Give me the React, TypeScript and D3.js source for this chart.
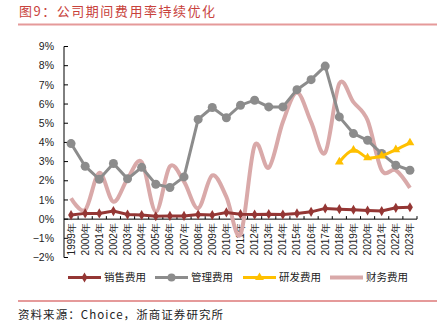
import React from "react";
import * as d3 from "d3";

const years = ["1999","2000","2001","2002","2003","2004","2005","2006","2007","2008","2009","2010","2011","2012","2013","2014","2015","2016","2017","2018","2019","2020","2021","2022","2023"];
const sales = [0.21,0.3,0.3,0.42,0.24,0.21,0.15,0.17,0.17,0.24,0.21,0.35,0.26,0.24,0.26,0.24,0.3,0.38,0.56,0.52,0.49,0.45,0.42,0.59,0.62];
const mgmt = [3.94,2.76,2.08,2.9,2.1,2.7,1.82,1.65,2.2,5.2,5.82,5.28,5.94,6.2,5.85,5.85,6.75,7.27,7.98,5.33,4.46,4.11,3.42,2.81,2.55];
const rdYears = ["2018","2019","2020","2021","2022","2023"];
const rd = [2.98,3.6,3.2,3.3,3.62,3.98];
const fin = [1.09,0.48,2.41,0.91,2.1,2.98,0.39,2.75,1.95,0.57,2.28,1.16,-0.8,3.84,2.68,5.06,6.6,5.06,3.47,7.07,6.1,5.15,2.55,2.55,1.63];
const yTicks = [-2,-1,0,1,2,3,4,5,6,7,8,9];
const legendNames = ["销售费用","管理费用","研发费用","财务费用"];

const C_SALES = "#943634";
const C_MGMT = "#8c8c8c";
const C_RD = "#ffc000";
const C_FIN = "#d9a9a9";

export default function App() {
  const W = 437, H = 322;
  const x = d3.scaleBand<string>().domain(years).range([64, 417]).padding(0);
  const cx = (yr: string) => (x(yr) as number) + x.bandwidth() / 2;
  const y = d3.scaleLinear().domain([-2, 9]).range([257.5, 46.5]);
  const y0 = y(0);

  const line = d3.line<[string, number]>().x(d => cx(d[0])).y(d => y(d[1]));
  const smooth = d3.line<[string, number]>().x(d => cx(d[0])).y(d => y(d[1])).curve(d3.curveCardinal.tension(0));

  const salesPts: [string, number][] = years.map((yr, i) => [yr, sales[i]]);
  const mgmtPts: [string, number][] = years.map((yr, i) => [yr, mgmt[i]]);
  const rdPts: [string, number][] = rdYears.map((yr, i) => [yr, rd[i]]);
  const finPts: [string, number][] = years.map((yr, i) => [yr, fin[i]]);

  const diamond = d3.symbol().type(d3.symbolDiamond).size(30)() as string;
  const tri = d3.symbol().type(d3.symbolTriangle).size(34)() as string;

  const font = "'Liberation Sans', Arial, sans-serif";
  const cjk = "'Noto Sans CJK SC', sans-serif";

  const legendX = [68, 155, 243, 330];
  const legendColors = [C_SALES, C_MGMT, C_RD, C_FIN];
  const ly = 277.5;

  return (
    <svg width={W} height={H} style={{ position: "absolute", left: 0, top: 0, background: "#fff" }}>
      <text x={19} y={16} fontFamily={cjk} fontSize={13} fill="#c8423c" textLength={196} lengthAdjust="spacing">图9：公司期间费用率持续优化</text>
      <line x1={18} x2={437} y1={24.5} y2={24.5} stroke="#e59a9a" strokeWidth={2} />

      {/* y axis */}
      <line x1={64} x2={64} y1={y(9)} y2={y(-2)} stroke="#000" strokeWidth={1} />
      {yTicks.map(t => (
        <g key={t}>
          <line x1={64} x2={68} y1={y(t)} y2={y(t)} stroke="#000" />
          <text x={54} y={y(t)} dy="0.35em" textAnchor="end" fontFamily={font} fontSize={10.5} fill="#222">{t < 0 ? "\u2212" + Math.abs(t) + "%" : t + "%"}</text>
        </g>
      ))}
      {/* x axis */}
      <line x1={64} x2={417} y1={y0} y2={y0} stroke="#000" strokeWidth={1} />
      {years.map(yr => (
        <g key={yr}>
          <line x1={(x(yr) as number) + x.bandwidth()} x2={(x(yr) as number) + x.bandwidth()} y1={y0} y2={y0 - 3} stroke="#000" />
          <text transform={`translate(${cx(yr) + 3.5},${y0 + 4}) rotate(-90)`} textAnchor="end" fontFamily={font} fontSize={10} fill="#222">{yr}年</text>
        </g>
      ))}

      {/* finance */}
      <path d={smooth(finPts) as string} fill="none" stroke={C_FIN} strokeWidth={4} strokeLinejoin="round" />
      {/* management */}
      <path d={line(mgmtPts) as string} fill="none" stroke={C_MGMT} strokeWidth={3} />
      {mgmtPts.map(p => <circle key={p[0]} cx={cx(p[0])} cy={y(p[1])} r={4.5} fill={C_MGMT} />)}
      {/* rd */}
      <path d={smooth(rdPts) as string} fill="none" stroke={C_RD} strokeWidth={3} />
      {rdPts.map(p => <path key={p[0]} d={tri} transform={`translate(${cx(p[0])},${y(p[1])})`} fill={C_RD} />)}
      {/* sales */}
      <path d={line(salesPts) as string} fill="none" stroke={C_SALES} strokeWidth={3} />
      {salesPts.map(p => <path key={p[0]} d={diamond} transform={`translate(${cx(p[0])},${y(p[1])})`} fill={C_SALES} />)}

      {/* legend */}
      {legendNames.map((n, i) => (
        <g key={n}>
          <line x1={legendX[i]} x2={legendX[i] + 33} y1={ly} y2={ly} stroke={legendColors[i]} strokeWidth={i === 3 ? 4 : 3} />
          {i === 0 && <path d={diamond} transform={`translate(${legendX[i] + 16.5},${ly})`} fill={C_SALES} />}
          {i === 1 && <circle cx={legendX[i] + 16.5} cy={ly} r={4} fill={C_MGMT} />}
          {i === 2 && <path d={tri} transform={`translate(${legendX[i] + 16.5},${ly})`} fill={C_RD} />}
          <text x={legendX[i] + 36} y={ly} dy="0.35em" fontFamily={cjk} fontSize={10.5} fill="#222">{n}</text>
        </g>
      ))}

      <line x1={18} x2={437} y1={301} y2={301} stroke="#e59a9a" strokeWidth={2} />
      <text x={18} y={319} fontFamily={cjk} fontSize={11.5} fill="#222" textLength={205} lengthAdjust="spacing">资料来源：Choice，浙商证券研究所</text>
    </svg>
  );
}
